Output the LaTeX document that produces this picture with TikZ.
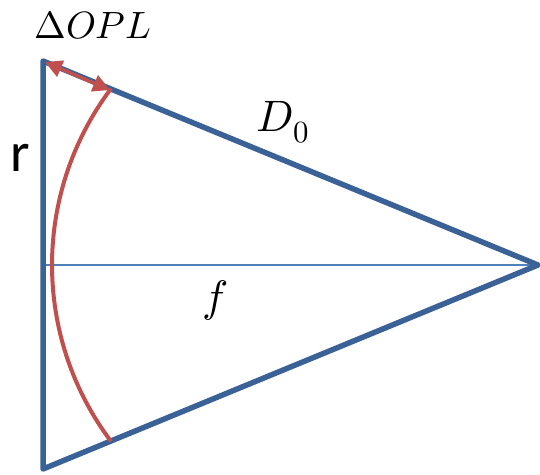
\documentclass[tikz,border=0pt]{standalone}
\usepackage{unicode-math}
\setmathfont{Latin Modern Math}
\newfontfamily\calfont{Carlito}
\usetikzlibrary{arrows.meta}
\definecolor{edgeblue}{HTML}{3B6296}
\definecolor{axisblue}{HTML}{4F81BD}
\definecolor{arcred}{HTML}{C0504D}
\begin{document}
\begin{tikzpicture}[x=1pt, y=-1pt, line cap=round, line join=round, >={Triangle[length=17pt,width=17pt]}, font=\fontsize{38}{44}\selectfont]
	\useasboundingbox (0,0) rectangle (540,474);
	\coordinate (T) at (43,61);
	\coordinate (B) at (43,469);
	\coordinate (F) at (538,265);
	\coordinate (M) at (43,265);
	\coordinate (P) at (110,90);
	\draw[axisblue, line width=2pt] (M) -- (F);
	\draw[edgeblue, line width=5.5pt] (F) -- (T) -- (B) -- cycle;
	\draw[arcred, line width=4pt] (345,265) ++(143.3:293) arc[start angle=143.3, end angle=216.7, radius=293];
	\draw[arcred, line width=3.5pt, <->] ([shift={(2,1)}]T) -- (P);
	\node (opl) at (93,25) {$\Delta OPL$};
	\node[font=\calfont\fontsize{56}{60}\selectfont] (rlab) at (20,158) {r};
	\node[font=\fontsize{44}{48}\selectfont] (dlab) at (283,122) {$D_0$};
	\node[font=\fontsize{44}{48}\selectfont] (flab) at (215,300) {$f$};
\end{tikzpicture}
\end{document}
